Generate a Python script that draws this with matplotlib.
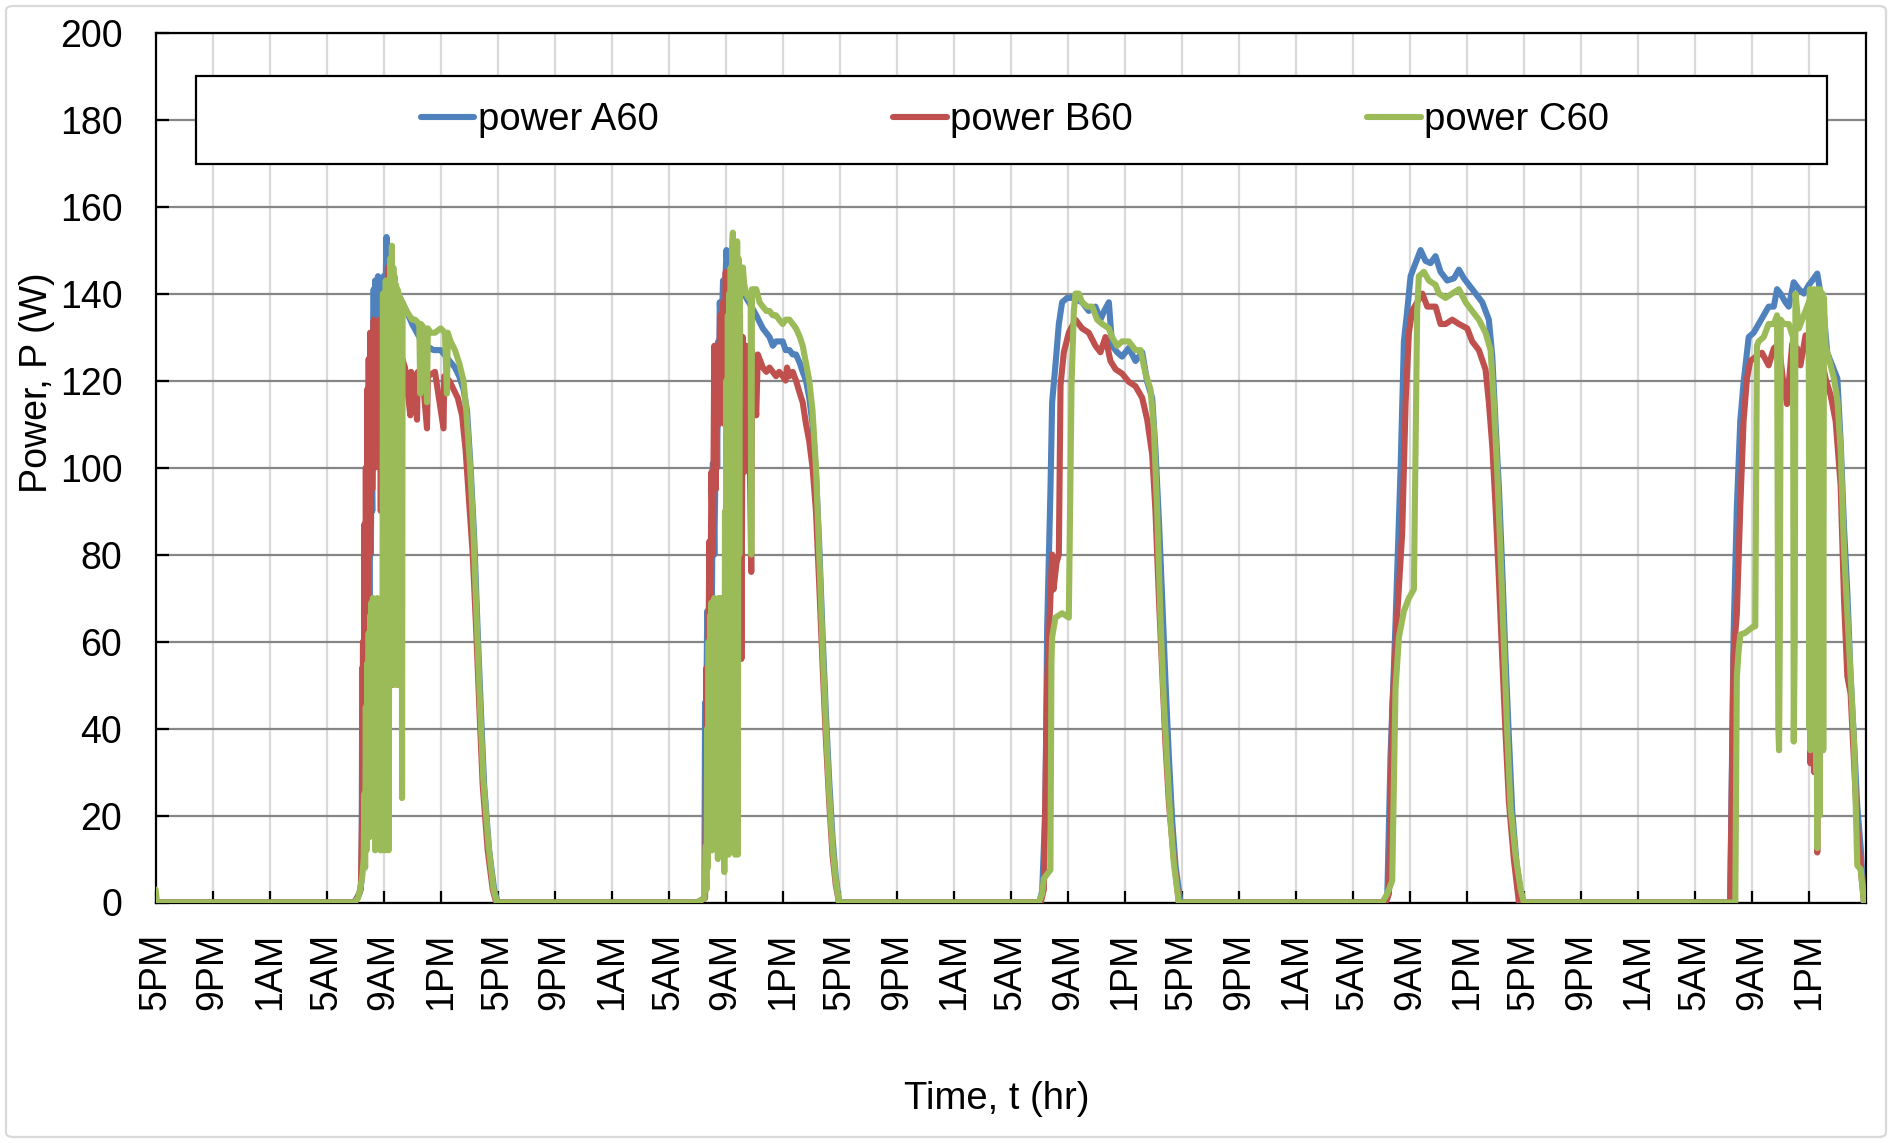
import matplotlib
matplotlib.use("Agg")
import matplotlib.pyplot as plt
from matplotlib.patches import Rectangle, FancyBboxPatch

plt.rcParams['font.family'] = ['Liberation Sans', 'DejaVu Sans']

# ---- data: (clock hour, watts) samples for each day, per inverter ----
a_day1 = [(6.9,0),(7.3,2),(7.45,5),(7.5,54),(7.55,20),(7.6,55),(7.7,40),(7.75,64),(7.8,50),(7.85,97),
          (7.9,60),(7.95,100),(8.0,70),(8.05,103),(8.1,80),(8.15,102),(8.2,90),(8.3,141),(8.35,100),
          (8.4,143),(8.5,120),(8.6,144),(8.7,125),(8.8,143),(8.9,130),(9.0,144),(9.1,135),(9.2,153),
          (9.3,140),(9.45,150),(9.6,146),(9.8,142),(10.0,140),(10.3,138),(10.6,136),(11.0,133),
          (11.5,130),(12.0,128),(12.5,127),(13.0,127),(13.5,125),(14.0,123),(14.3,121),(14.6,118),
          (14.85,113),(15.1,100),(15.35,84),(15.6,62),(15.85,42),(16.05,27),(16.4,12),(16.75,3),(17.0,0)]
b_day1 = [(7.0,0),(7.4,3),(7.5,23),(7.55,60),(7.6,30),(7.65,87),(7.7,40),(7.75,100),(7.8,50),(7.85,118),
          (7.9,60),(7.95,125),(8.0,80),(8.05,131),(8.1,87),(8.15,128),(8.2,95),(8.3,134),(8.4,100),
          (8.5,133),(8.6,110),(8.7,134),(8.8,90),(8.9,133),(9.0,110),(9.1,140),(9.2,70),(9.3,146),
          (9.4,52),(9.5,135),(9.6,50),(9.7,130),(9.8,52),(9.9,128),(10.0,50),(10.1,126),(10.2,52),
          (10.3,125),(10.5,123),(10.87,112),(10.92,122),(11.1,121),(11.34,111),(11.4,122),(11.7,122),
          (12.04,109),(12.1,121),(12.6,122),(13.2,109),(13.25,121),(13.6,120),(13.9,118),(14.2,116),
          (14.5,112),(14.75,104),(15.0,92),(15.25,80),(15.5,62),(15.75,42),(15.95,27),(16.3,12),
          (16.65,3),(16.9,0)]
c_day1 = [(6.9,0),(7.2,1),(7.35,3),(7.5,6),(7.6,10),(7.65,25),(7.7,8),(7.75,45),(7.8,12),(7.85,55),
          (7.9,20),(7.95,62),(8.0,15),(8.05,66),(8.1,30),(8.15,69),(8.2,40),(8.25,70),(8.3,20),
          (8.35,64),(8.4,12),(8.45,68),(8.5,35),(8.55,70),(8.6,25),(8.65,60),(8.7,45),(8.77,12),
          (8.85,66),(8.9,12),(8.95,140),(9.0,20),(9.05,136),(9.1,12),(9.15,143),(9.2,15),(9.3,138),
          (9.35,12),(9.45,148),(9.5,60),(9.58,151),(9.63,55),(9.68,146),(9.72,50),(9.77,144),
          (9.82,55),(9.87,142),(9.92,60),(9.97,141),(10.02,50),(10.07,140),(10.12,60),(10.17,139),
          (10.22,50),(10.26,138),(10.29,24),(10.33,138),(10.45,137),(10.6,136),(10.8,135),(11.0,134),
          (11.2,134),(11.5,133),(11.57,117),(11.62,133),(11.85,132),(12.04,115),(12.1,132),(12.3,131),
          (12.6,131),(13.0,132),(13.3,131),(13.44,117),(13.5,131),(13.7,129),(14.0,127),(14.3,124),
          (14.6,120),(14.8,113),(15.07,100),(15.3,85),(15.54,64),(15.78,44),(16.0,28),(16.36,13),
          (16.71,3),(16.95,0)]

a_day2 = [(7.0,0),(7.5,1),(7.55,46),(7.6,30),(7.7,67),(7.8,49),(7.9,67),(8.0,55),(8.1,101),(8.2,80),
          (8.35,118),(8.4,100),(8.47,129),(8.52,110),(8.58,138),(8.7,130),(8.81,143),(8.9,135),
          (9.05,150),(9.15,145),(9.28,149),(9.45,150),(9.6,147),(9.8,145),(10.0,143),(10.2,141),
          (10.44,139),(10.8,137),(11.14,135),(11.6,132),(12.07,130),(12.3,128),(12.53,129),(12.8,129),
          (13.0,129),(13.2,127),(13.47,127),(13.7,126),(13.93,126),(14.2,124),(14.4,122),(14.63,120),
          (14.86,116),(15.09,110),(15.33,99),(15.56,82),(15.79,62),(16.02,44),(16.26,28),(16.49,15),
          (16.72,6),(16.95,0)]
b_day2 = [(7.0,0),(7.55,1),(7.6,21),(7.65,54),(7.7,30),(7.77,50),(7.85,83),(7.9,60),(8.0,99),(8.1,80),
          (8.2,128),(8.3,95),(8.4,128),(8.5,110),(8.6,135),(8.7,120),(8.81,138),(8.9,110),(9.0,145),
          (9.1,90),(9.2,145),(9.3,55),(9.4,144),(9.5,60),(9.6,140),(9.7,56),(9.8,138),(9.9,58),
          (10.0,135),(10.1,56),(10.2,130),(10.3,99),(10.44,128),(10.6,127),(10.79,76),(10.84,127),
          (11.0,118),(11.14,112),(11.25,126),(11.37,125),(11.6,123),(11.85,122),(12.07,123),(12.3,122),
          (12.53,121),(12.75,122),(13.0,121),(13.2,120),(13.3,123),(13.47,121),(13.7,122),(13.93,120),
          (14.2,117),(14.4,115),(14.63,110),(14.86,106),(15.09,100),(15.33,90),(15.56,73),(15.79,55),
          (16.02,38),(16.26,23),(16.49,11),(16.72,4),(16.95,0)]
c_day2 = [(7.0,0),(7.5,1),(7.6,13),(7.65,3),(7.7,40),(7.75,8),(7.8,60),(7.85,15),(7.9,66),(7.95,20),
          (8.0,69),(8.05,12),(8.1,67),(8.15,30),(8.2,70),(8.25,40),(8.3,66),(8.35,20),(8.4,69),
          (8.45,10),(8.5,70),(8.55,35),(8.6,68),(8.65,15),(8.7,70),(8.75,50),(8.8,69),(8.9,7),
          (8.95,90),(9.0,40),(9.05,120),(9.1,30),(9.15,135),(9.2,11),(9.25,140),(9.3,15),(9.35,146),
          (9.4,60),(9.45,150),(9.5,154),(9.55,70),(9.6,150),(9.65,11),(9.7,151),(9.75,40),(9.8,152),
          (9.85,11),(9.9,148),(9.95,80),(10.0,146),(10.1,140),(10.2,146),(10.3,142),(10.44,140),
          (10.6,139),(10.75,140),(10.79,80),(10.84,141),(11.0,141),(11.14,141),(11.37,138),(11.6,137),
          (11.85,136),(12.07,136),(12.3,135),(12.53,135),(12.75,134),(13.0,133),(13.2,134),(13.47,134),
          (13.7,133),(13.93,132),(14.2,130),(14.4,128),(14.63,124),(14.86,120),(15.09,113),(15.33,100),
          (15.56,80),(15.79,59),(16.02,41),(16.26,25),(16.49,13),(16.72,5),(16.95,0)]

a_day3 = [(7.0,0),(7.2,2.6),(7.43,22),(7.55,63),(7.78,94.5),(7.9,115),(8.13,123.5),(8.37,133),(8.6,138),
          (8.95,139),(9.3,139),(10.0,138),(10.47,136),(10.94,137),(11.29,134),(11.55,136),(11.88,138),
          (12.11,128),(12.46,126.5),(12.81,125.5),(13.28,127.5),(13.75,124.5),(14.22,126.5),(14.57,119.7),
          (14.92,116),(15.15,104),(15.39,88),(15.62,70),(15.85,51),(16.09,33.6),(16.32,19),(16.56,8.4),
          (16.91,0)]
b_day3 = [(7.1,0),(7.32,3),(7.55,51),(7.78,70),(7.9,80),(8.0,72),(8.2,78),(8.37,80),(8.49,119),
          (8.72,126.5),(9.07,131),(9.54,134),(10.0,132),(10.47,131),(10.94,128),(11.29,126.5),(11.64,130),
          (11.99,124.5),(12.35,122.6),(12.81,121.6),(13.28,119.7),(13.75,118.7),(14.22,116),(14.57,111),
          (14.92,103),(15.15,90),(15.39,70),(15.62,53),(15.85,36.5),(16.09,23),(16.44,10),(16.79,0)]
c_day3 = [(6.96,0),(7.2,2),(7.32,5.5),(7.78,7.5),(7.85,55),(7.9,61),(8.13,65.5),(8.6,66.5),(9.07,65.5),
          (9.26,119),(9.42,136),(9.54,140),(9.77,140),(10.0,138),(10.36,137),(10.71,137),(11.06,134),
          (11.41,133),(11.88,132),(12.11,130),(12.46,128),(12.81,129),(13.28,129),(13.75,127),(14.1,127),
          (14.45,121.6),(14.8,118),(15.04,109),(15.27,90),(15.5,65.5),(15.74,46),(15.97,32),(16.2,19),
          (16.44,9),(16.79,0)]

a_day4 = [(7.2,0),(7.41,1),(7.64,33.5),(7.99,64),(8.35,100),(8.58,129),(8.81,136),(9.05,144),(9.28,146),
          (9.75,150),(10.1,147.5),(10.45,147),(10.8,148.6),(11.15,145),(11.62,143),(12.09,143.5),
          (12.44,145.5),(12.79,143.5),(13.14,142),(13.61,140),(14.08,138),(14.54,134),(14.78,125.6),
          (15.01,110),(15.25,95),(15.48,76.5),(15.71,56),(15.95,37.6),(16.18,21),(16.48,9),(16.88,0)]
b_day4 = [(7.3,0),(7.53,2),(7.76,44),(8.11,66),(8.46,85),(8.7,115),(8.93,131),(9.16,136),(9.51,138),
          (9.87,140),(10.22,137),(10.8,137),(11.15,133),(11.5,133),(11.97,134),(12.44,133),(13.02,132),
          (13.37,129),(13.84,127),(14.31,122.5),(14.54,115),(14.78,105),(15.01,91),(15.25,74),(15.48,56),
          (15.71,39),(15.95,23),(16.29,10),(16.65,0)]
c_day4 = [(7.06,0),(7.41,2),(7.76,5),(7.88,28),(7.99,49),(8.23,61),(8.58,67),(8.93,70),(9.28,72),(9.4,105),
          (9.51,136),(9.63,144),(9.98,145),(10.33,143),(10.8,142),(11.04,140),(11.5,139),(11.97,140),
          (12.44,141),(12.91,138),(13.37,136),(13.84,134),(14.31,131),(14.66,127),(14.89,115),(15.13,99),
          (15.36,80),(15.6,59),(15.83,39),(16.06,22),(16.41,11),(16.77,3),(17.0,0)]

a_day5 = [(7.47,0),(7.71,61.6),(7.94,91),(8.18,110.7),(8.41,119.5),(8.77,130),(9.12,131),(9.47,133),
          (9.82,135),(10.17,137),(10.53,137),(10.76,141),(11.0,140),(11.35,138),(11.58,137),(11.93,142.6),
          (12.29,141),(12.64,140),(12.99,142),(13.23,143),(13.58,144.6),(13.81,140),(14.05,135),
          (14.28,126.4),(14.63,123.5),(14.99,120.5),(15.22,106),(15.46,86),(15.69,71.4),(15.92,52),
          (16.16,37),(16.39,22),(16.63,12.5),(16.86,0)]
b_day5 = [(7.47,0),(7.71,56.7),(7.94,66.5),(8.18,91),(8.41,110.7),(8.65,120.5),(8.88,124.5),(9.23,125.4),
          (9.7,126.4),(10.17,123.5),(10.53,127.4),(10.88,128.4),(11.23,118.6),(11.46,114.6),(11.82,128.4),
          (12.17,127.4),(12.4,123.5),(12.76,130.4),(12.99,130),(13.1,32),(13.2,128),(13.35,30),(13.45,130),
          (13.58,11.5),(13.65,128),(13.8,35),(13.9,125),(14.16,120.5),(14.52,116.6),(14.87,110.7),
          (15.22,96),(15.46,69.5),(15.69,52),(15.92,48),(16.16,32),(16.39,17),(16.63,7.6),(16.86,0)]
c_day5 = [(7.83,0),(7.94,52),(8.06,57.7),(8.18,61.6),(8.53,62),(9.12,63.5),(9.23,63.5),(9.35,128),
          (9.47,129),(9.82,130),(10.17,133),(10.53,133),(10.76,135),(10.85,40),(10.9,35),(10.95,60),
          (11.02,134),(11.23,133),(11.58,133),(11.88,130),(11.93,37),(12.0,60),(12.05,140),(12.29,132),
          (12.76,136),(12.99,138),(13.02,40),(13.06,141),(13.1,35),(13.14,140),(13.18,45),(13.22,139),
          (13.26,38),(13.3,141),(13.34,50),(13.38,140),(13.42,36),(13.46,139),(13.5,30),(13.54,141),
          (13.58,12.5),(13.62,140),(13.66,35),(13.7,139),(13.74,20),(13.78,141),(13.82,35),(13.86,138),
          (13.9,40),(13.95,140),(14.0,35),(14.05,139),(14.16,128),(14.4,125),(14.75,120.5),(14.99,115.6),
          (15.22,104),(15.46,81),(15.69,66.5),(15.92,52),(16.16,37),(16.39,8.5),(16.63,7.6),(16.86,0)]

series_names = ["power A60", "power B60", "power C60"]
series_days = [
    [a_day1, a_day2, a_day3, a_day4, a_day5],
    [b_day1, b_day2, b_day3, b_day4, b_day5],
    [c_day1, c_day2, c_day3, c_day4, c_day5],
]
series_start = [0, 0, 3]          # watts at the first logged sample (5PM)
series_colors = ["#4F81BD", "#C0504D", "#9BBB59"]

tick_names = ["5PM", "9PM", "1AM", "5AM", "9AM", "1PM"]
START_CLOCK = 17                  # log starts at 5PM
N_HOURS = 120


def to_series(start_val, days):
    """Flatten per-day (clock, watts) samples into elapsed hours since the start."""
    t, p = [0.0, 0.1], [start_val, 0.0]
    for k, day in enumerate(days):
        for clock, w in day:
            t.append(clock + 24 * (k + 1) - START_CLOCK)
            p.append(w)
    return t, p


fig = plt.figure(figsize=(18.92, 11.43), dpi=100)

# light rounded border around the chart
fig.patches.append(FancyBboxPatch((6 / 1892, 6 / 1143), 1880 / 1892, 1131 / 1143,
                                  boxstyle="round,pad=0,rounding_size=0.004",
                                  transform=fig.transFigure, fill=False,
                                  edgecolor="#D9D9D9", linewidth=1.6))

ax = fig.add_axes([155.6 / 1892, 1 - 902.5 / 1143, (1866 - 155.6) / 1892, (902.5 - 32.6) / 1143])

for (start, days), name, color in zip(zip(series_start, series_days), series_names, series_colors):
    t, p = to_series(start, days)
    ax.plot(t, p, color=color, linewidth=4.4, label=name, zorder=3,
            solid_joinstyle="round", solid_capstyle="round")

ax.set_xlim(0, N_HOURS)
ax.set_ylim(0, 200)
xt = list(range(0, N_HOURS, 4))
ax.set_xticks(xt)
ax.set_xticklabels([tick_names[i % len(tick_names)] for i in range(len(xt))], rotation=90)
ax.set_yticks(range(0, 201, 20))

ax.tick_params(axis="both", direction="in", length=9, width=1.6, color="black",
               labelsize=27, labelcolor="black")
ax.tick_params(axis="x", pad=22)
ax.tick_params(axis="y", pad=24)

ax.xaxis.grid(True, color="#D9D9D9", linewidth=1.6, zorder=0)
ax.yaxis.grid(True, color="#868686", linewidth=1.6, zorder=0)
ax.set_axisbelow(True)
for s in ax.spines.values():
    s.set_color("black")
    s.set_linewidth(1.6)

# legend: framed band across the top of the plot area
x0, x1 = (196 - 155.6) / 1710.4, (1827 - 155.6) / 1710.4
y0, y1 = (902.5 - 164) / 869.9, (902.5 - 76) / 869.9
ax.add_patch(Rectangle((x0, y0), x1 - x0, y1 - y0, transform=ax.transAxes,
                       facecolor="white", edgecolor="black", linewidth=1.6, zorder=4))
leg = ax.legend(loc="center", bbox_to_anchor=((x0 + x1) / 2 + 0.002, (y0 + y1) / 2), ncol=3,
                frameon=False, fontsize=27.5, handlelength=1.4, handletextpad=0.08,
                columnspacing=6.15, borderpad=0)
leg.set_zorder(5)
for ln in leg.get_lines():
    ln.set_linewidth(4.4)

fig.text(37 / 1892, 1 - 383 / 1143, "Power, P (W)", rotation=90, ha="center", va="center",
         fontsize=27, color="black")
fig.text(997 / 1892, 1 - 1099 / 1143, "Time, t (hr)", ha="center", va="center",
         fontsize=27.5, color="black")

fig.savefig("out.png", dpi=100, facecolor="white")
